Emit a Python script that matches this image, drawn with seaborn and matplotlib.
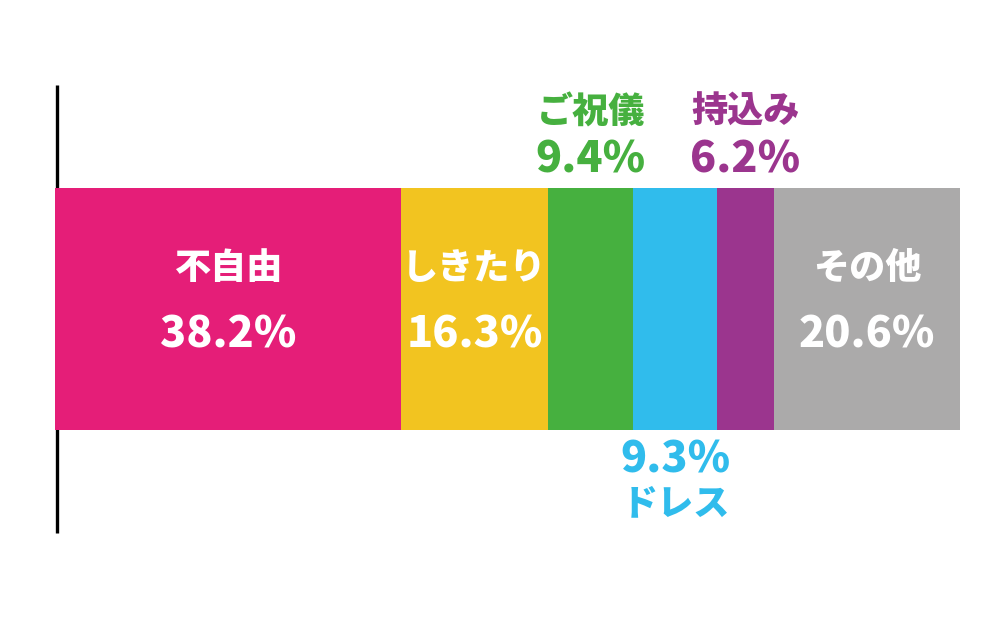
import matplotlib
matplotlib.use("Agg")
import matplotlib.pyplot as plt
import seaborn as sns
import pandas as pd
import numpy as np

categories = ["不自由", "しきたり", "ご祝儀", "ドレス", "持込み", "その他"]
values = [38.2, 16.3, 9.4, 9.3, 6.2, 20.6]
pct_labels = ["38.2%", "16.3%", "9.4%", "9.3%", "6.2%", "20.6%"]
colors = ["#E51E78", "#F2C420", "#46B03F", "#30BCEC", "#9B358E", "#ABAAAA"]
label_pos = ["in", "in", "top", "bottom", "top", "in"]

sns.set_theme(style="white")
plt.rcParams["font.family"] = ["Noto Sans CJK JP", "DejaVu Sans"]

fig = plt.figure(figsize=(10, 6.26), dpi=100)
ax = fig.add_axes([0, 0, 1, 1])

cum = np.cumsum(values)
starts = cum - np.array(values)

# stacked bar: draw cumulative totals from longest to shortest
for i in range(len(values) - 1, -1, -1):
    df = pd.DataFrame({"row": ["all"], "value": [cum[i]]})
    sns.barplot(data=df, x="value", y="row", orient="h", color=colors[i],
                saturation=1, width=0.8, ax=ax, zorder=3, linewidth=0,
                edgecolor="none")

# vertical axis line
ax.vlines(0.2, -0.74, 0.74, color="black", lw=2.4, zorder=1)

ax.set_xlim(-6.077, 104.42)
ax.set_ylim(1.048, -1.0215)
ax.axis("off")

name_kw = dict(ha="center", va="center", fontsize=26, fontweight="black", zorder=5)
pct_kw = dict(ha="center", va="center", fontsize=31, fontweight="black", zorder=5)

for i, cat in enumerate(categories):
    cx = starts[i] + values[i] / 2
    if label_pos[i] == "in":
        ax.text(cx, -0.1355, cat, color="white", **name_kw)
        ax.text(cx, 0.086, pct_labels[i], color="white", **pct_kw)
    elif label_pos[i] == "top":
        ax.text(cx, -0.651, cat, color=colors[i], **name_kw)
        ax.text(cx, -0.4926, pct_labels[i], color=colors[i], **pct_kw)
    else:
        ax.text(cx, 0.499, pct_labels[i], color=colors[i], **pct_kw)
        ax.text(cx, 0.641, cat, color=colors[i], **name_kw)

fig.savefig("out.png", dpi=100)
